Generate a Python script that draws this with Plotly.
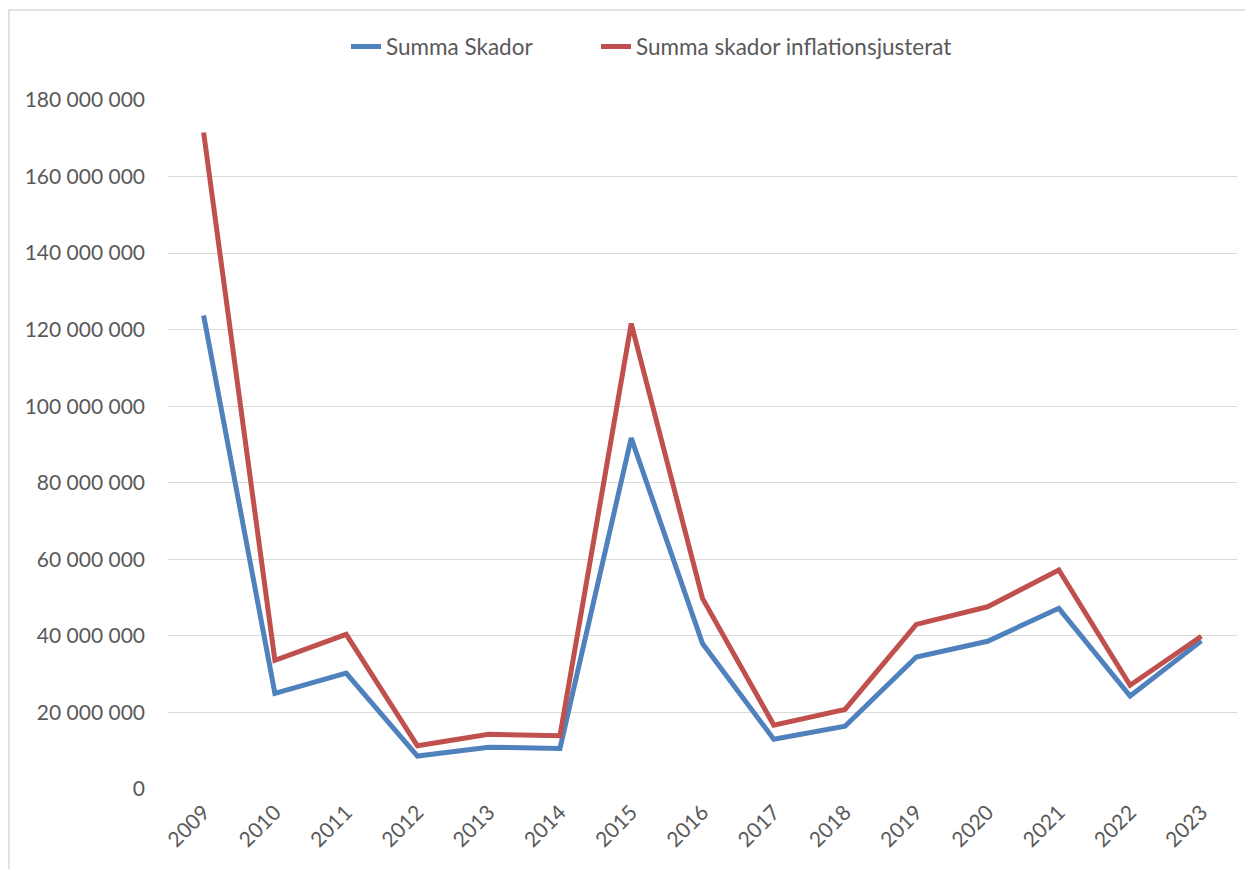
import plotly.graph_objects as go

years = ["2009", "2010", "2011", "2012", "2013", "2014", "2015", "2016",
         "2017", "2018", "2019", "2020", "2021", "2022", "2023"]
summa_skador = [123.7e6, 25.0e6, 30.3e6, 8.6e6, 10.9e6, 10.6e6, 91.7e6, 38.0e6,
                13.0e6, 16.4e6, 34.5e6, 38.6e6, 47.2e6, 24.3e6, 38.7e6]
summa_infl = [171.5e6, 33.6e6, 40.4e6, 11.3e6, 14.3e6, 13.9e6, 121.6e6, 49.8e6,
              16.7e6, 20.8e6, 43.0e6, 47.6e6, 57.2e6, 27.1e6, 39.9e6]
y_ticks = [0, 20e6, 40e6, 60e6, 80e6, 100e6, 120e6, 140e6, 160e6, 180e6]

FONT = "Lato"
GREY = "#595959"

fig = go.Figure()
fig.add_trace(go.Scatter(x=years, y=summa_skador, mode="lines", name="Summa Skador",
                         line=dict(color="#4F81BD", width=5),
                         legend="legend", hoverinfo="x+y"))
fig.add_trace(go.Scatter(x=years, y=summa_infl, mode="lines",
                         name="Summa skador inflationsjusterat",
                         line=dict(color="#C0504D", width=5),
                         legend="legend2", hoverinfo="x+y"))

W, H = 1245, 861
L, R, T, B = 160, 16, 92, 80
pw = W - L - R
ph = H - T - B

leg_common = dict(orientation="h", xanchor="left", y=1.077, yanchor="middle",
                  font=dict(family=FONT, size=22.5, color=GREY),
                  bgcolor="rgba(0,0,0,0)")

fig.update_layout(
    width=W, height=H,
    margin=dict(l=L, r=R, t=T, b=B, autoexpand=False),
    paper_bgcolor="white", plot_bgcolor="white",
    font=dict(family=FONT, size=21, color=GREY),
    separators=", ",
    showlegend=True,
    legend=dict(x=(338 - L) / pw, **leg_common),
    legend2=dict(x=(588 - L) / pw, **leg_common),
    xaxis=dict(type="category", range=[-0.5, 14.5], showgrid=False, zeroline=False,
               showline=False, ticks="", tickangle=-45, ticklabelstandoff=6,
               automargin=False,
               tickfont=dict(family=FONT, size=21, color=GREY)),
    yaxis=dict(range=[0, 180e6], tickvals=y_ticks, tickformat=",d",
               showgrid=True, gridcolor="#D9D9D9", gridwidth=1.3, zeroline=False,
               showline=False, ticks="", ticklabelstandoff=22, automargin=False,
               tickfont=dict(family=FONT, size=21, color=GREY)),
)

# chart area border (partially visible: left and top edges)
fig.add_shape(type="rect", xref="paper", yref="paper",
              x0=(1 - L) / pw, x1=1.2, y0=-0.3, y1=(ph + T - 2) / ph,
              line=dict(color="#D9D9D9", width=1.5), layer="below")

fig.write_html("out.html")
